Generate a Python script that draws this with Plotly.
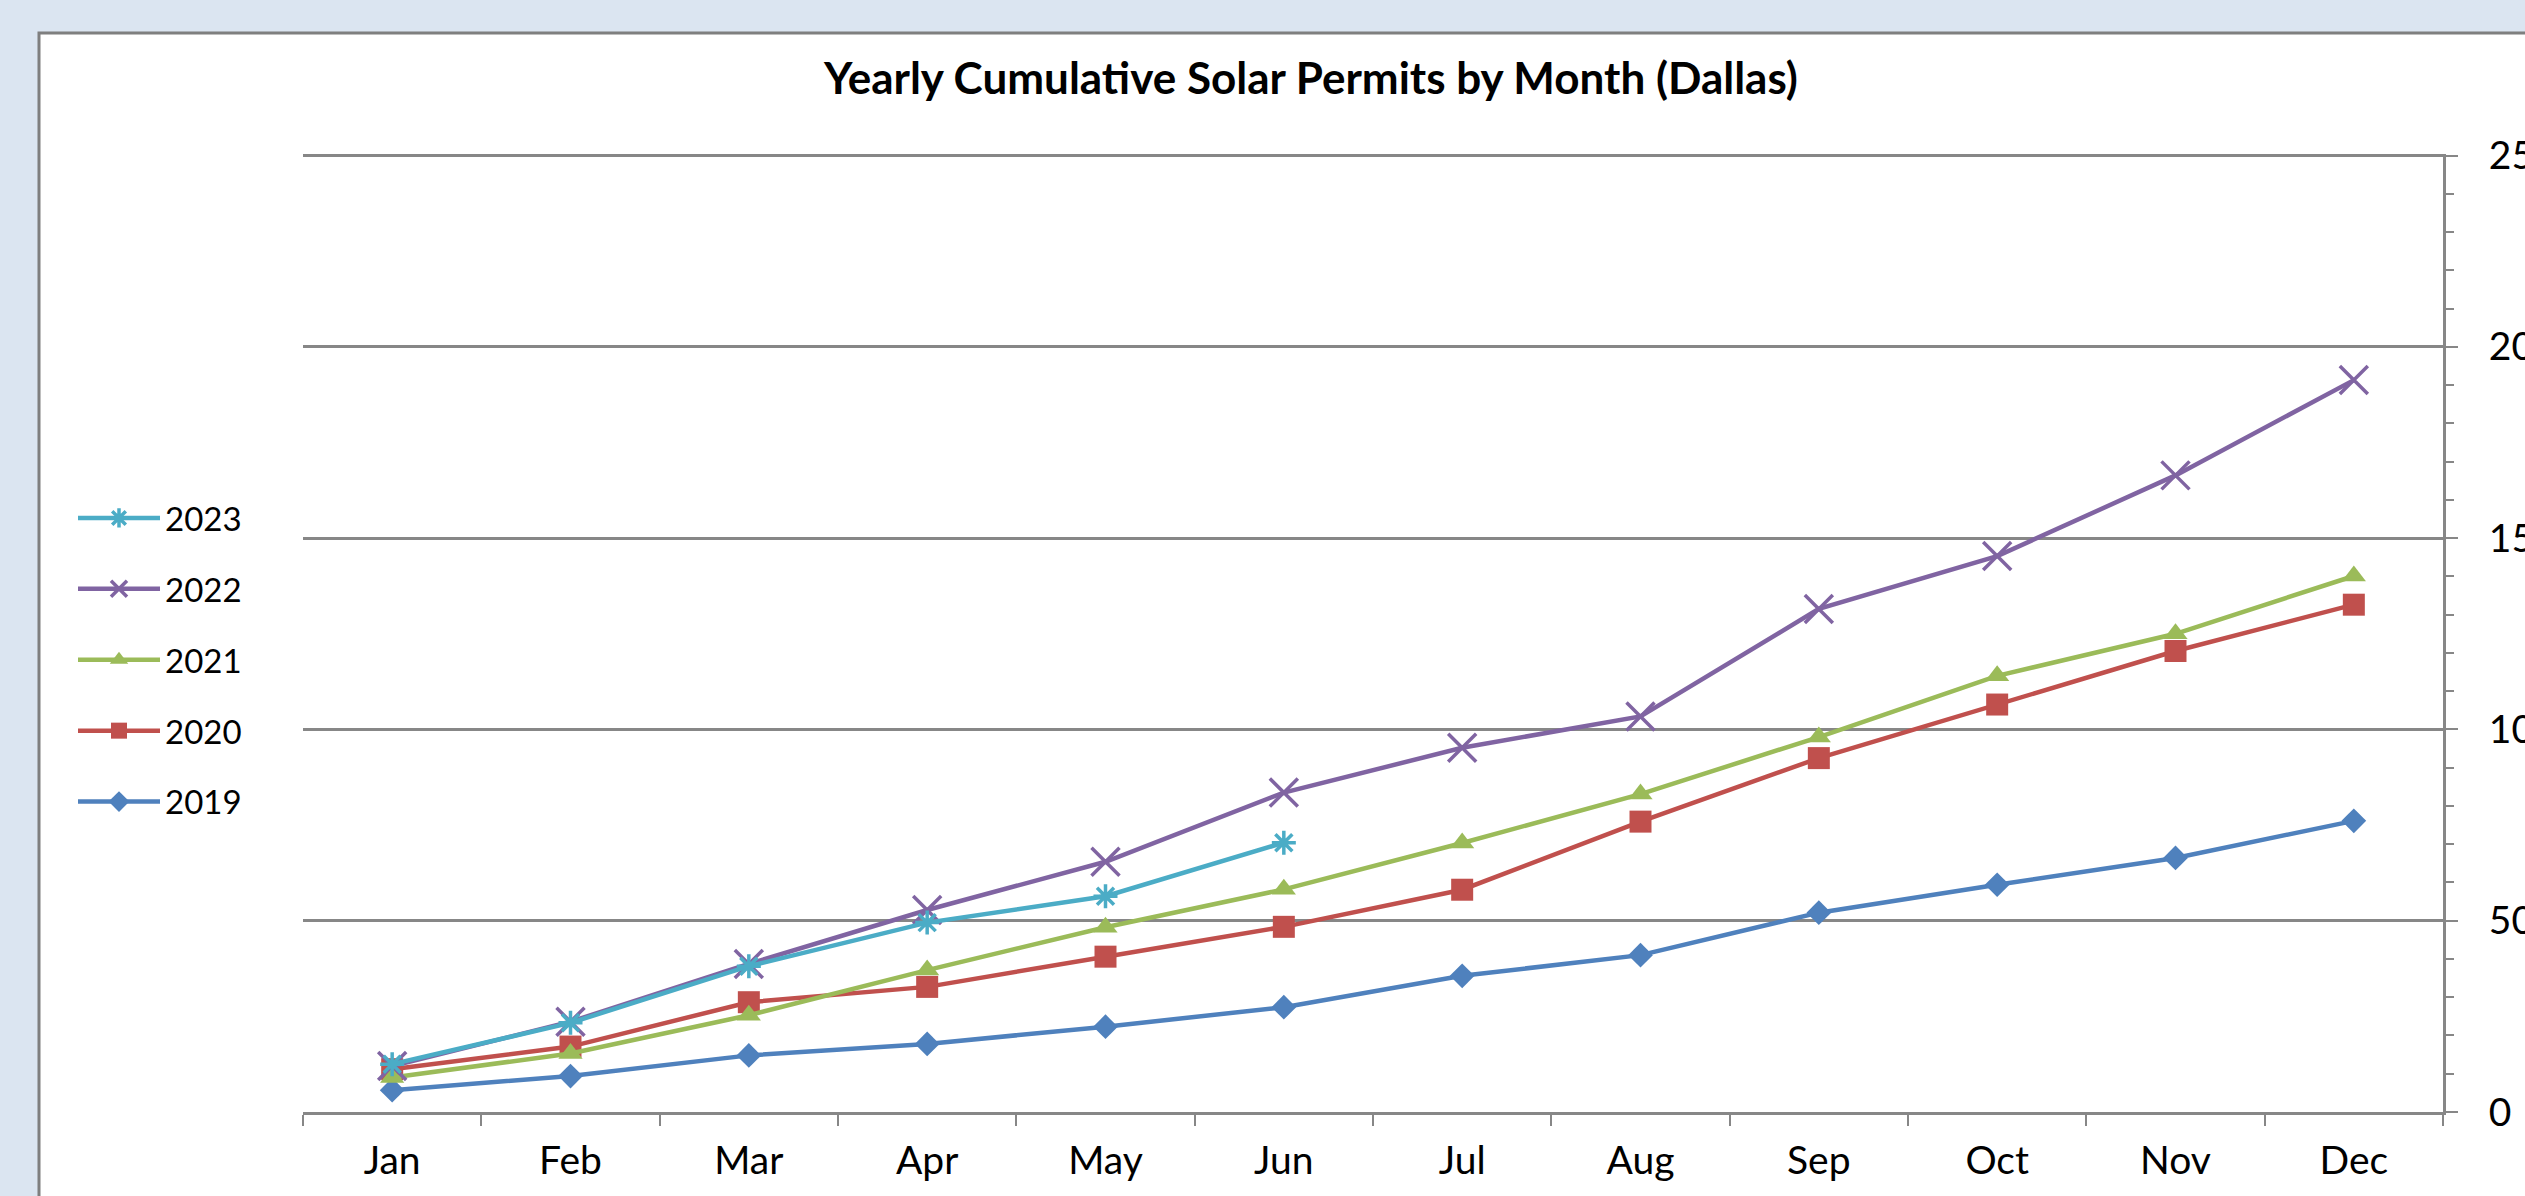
import plotly.graph_objects as go

months = ["Jan", "Feb", "Mar", "Apr", "May", "Jun", "Jul", "Aug", "Sep", "Oct", "Nov", "Dec"]
years = ["2019", "2020", "2021", "2022", "2023"]
y2019 = [57, 94, 148, 178, 223, 274, 356, 410, 521, 594, 664, 761]
y2020 = [112, 171, 287, 327, 406, 484, 581, 759, 925, 1065, 1205, 1326]
y2021 = [90, 153, 253, 371, 483, 582, 703, 831, 980, 1140, 1250, 1401]
y2022 = [120, 236, 387, 528, 654, 835, 952, 1034, 1315, 1453, 1664, 1913]
y2023 = [125, 233, 381, 495, 564, 704]
series_values = [y2019, y2020, y2021, y2022, y2023]
y_ticks = [0, 500, 1000, 1500, 2000, 2500]
y_tick_labels = ["0", "500", "1000", "1500", "2000", "2500"]

colors = ["#4F81BD", "#C0504D", "#9BBB59", "#8064A2", "#4BACC6"]
symbols = ["diamond", "square", "triangle-up", "x-thin-open", "asterisk-open"]
sizes = [19, 22, 21, 28, 20]

W, H = 2525, 1196
L, R, T, B = 303, W - 2443, 154, H - 1112
pw, ph = W - L - R, H - T - B
FONT = "Lato"
GRAY = "#878787"

fig = go.Figure()
for i, (yr, vals, c, s, sz) in enumerate(zip(years, series_values, colors, symbols, sizes)):
    open_sym = s.endswith("open")
    fig.add_trace(go.Scatter(
        x=months[:len(vals)], y=vals, name=yr, mode="lines+markers",
        legendgroup=yr, legendrank=len(years) - i,
        line=dict(color=c, width=4.5),
        marker=dict(symbol=s, size=sz, color=c,
                    line=dict(color=c, width=3.5 if open_sym else 0)),
    ))

fig.add_shape(type="rect", xref="paper", yref="paper", layer="below",
              x0=(39 - L) / pw, x1=1.2, y0=-0.2, y1=(1112 - 33) / ph,
              fillcolor="white", line=dict(color="#7f7f7f", width=3))

fig.update_layout(
    width=W, height=H,
    margin=dict(l=L, r=R, t=T, b=B, autoexpand=False),
    paper_bgcolor="#dbe5f1", plot_bgcolor="white",
    font=dict(family=FONT, size=34, color="black"),
    title=dict(text="<b>Yearly Cumulative Solar Permits by Month (Dallas)</b>",
               x=1311 / W, xanchor="center", xref="container",
               y=1 - 79 / H, yanchor="middle", yref="container",
               font=dict(family=FONT, size=44, color="black")),
    showlegend=True,
    legend=dict(xref="container", yref="container", x=73 / W, xanchor="left",
                y=1 - 490 / H, yanchor="top", traceorder="grouped",
                tracegroupgap=25, itemwidth=82, bgcolor="rgba(0,0,0,0)",
                font=dict(family=FONT, size=33, color="black")),
    xaxis=dict(type="category", categoryorder="array", categoryarray=months,
               range=[-0.5, 11.5], tickson="boundaries", ticks="outside",
               ticklen=11, tickwidth=2, tickcolor=GRAY, showgrid=False,
               showline=True, linecolor=GRAY, linewidth=3,
               ticklabelstandoff=12,
               tickfont=dict(family=FONT, size=39, color="black"),
               fixedrange=True),
    yaxis=dict(side="right", range=[0, 2504], tickmode="array",
               tickvals=y_ticks, ticktext=y_tick_labels,
               ticks="outside", ticklen=12, tickwidth=2, tickcolor=GRAY,
               showgrid=True, gridcolor=GRAY, gridwidth=2.5, zeroline=False,
               showline=True, linecolor=GRAY, linewidth=3,
               ticklabelposition="outside", ticklabelstandoff=23,
               minor=dict(dtick=100, ticks="outside", ticklen=8, tickwidth=2,
                          tickcolor=GRAY, showgrid=False),
               tickfont=dict(family=FONT, size=39, color="black"),
               fixedrange=True),
)

fig.write_html("out.html", config={"displayModeBar": False},
               post_script="document.body.style.margin='0';document.body.style.overflow='hidden';")
